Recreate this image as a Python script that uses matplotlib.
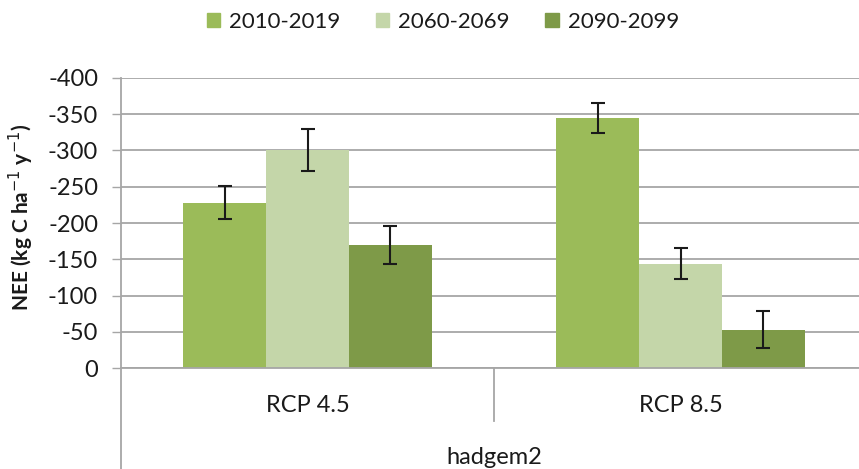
import numpy as np
import matplotlib
matplotlib.use("Agg")
import matplotlib.pyplot as plt
from matplotlib.patches import Patch

plt.rcParams['font.family'] = ['Lato', 'DejaVu Sans']

# === data ===
scenarios = ["RCP 4.5", "RCP 8.5"]
periods = ["2010-2019", "2060-2069", "2090-2099"]
nee = {
    "2010-2019": [-228, -345],
    "2060-2069": [-301, -144],
    "2090-2099": [-170, -53],
}
nee_err = {
    "2010-2019": [23, 21],
    "2060-2069": [29, 21],
    "2090-2099": [26, 26],
}
model = "hadgem2"
yticks = [0, -50, -100, -150, -200, -250, -300, -350, -400]

colors = ["#9BBB59", "#C4D6A9", "#7E9A48"]

# === figure ===
W, H = 859, 469
fig = plt.figure(figsize=(W / 100, H / 100), dpi=100)
ax = fig.add_axes([121 / W, (H - 368) / H, (867 - 121) / W, 290 / H])

x = np.arange(len(scenarios)) + 0.5
width = 0.2225
for i, p in enumerate(periods):
    ax.bar(x + (i - 1) * width, nee[p], width, color=colors[i], zorder=2)
    ax.errorbar(x + (i - 1) * width, nee[p], yerr=nee_err[p], fmt='none',
                ecolor='#1a1a1a', elinewidth=1.5, capsize=5, capthick=1.5, zorder=3)

ax.set_xlim(0, len(scenarios))
ax.set_ylim(0, -400)
ax.set_yticks(yticks)
ax.set_yticklabels([str(v) for v in yticks], fontsize=17, color='#1a1a1a')
ax.set_xticks([])
ax.yaxis.grid(True, color='#A6A6A6', lw=1.3, zorder=0)
ax.set_axisbelow(True)
ax.tick_params(axis='y', length=6.5, width=1, color='#A6A6A6', pad=10)

for s in ['top', 'right']:
    ax.spines[s].set_visible(False)
ax.spines['bottom'].set_color('#A6A6A6')
ax.spines['bottom'].set_linewidth(1.3)
ax.spines['left'].set_visible(False)

# left axis line running to the bottom of the figure
trans = ax.get_xaxis_transform()
ax.plot([0, 0], [1, -0.35], transform=trans, color='#A6A6A6', lw=1.3, clip_on=False)
# category divider
for k in range(1, len(scenarios)):
    ax.plot([k, k], [0, -0.183], transform=trans, color='#A6A6A6', lw=1.3, clip_on=False)

for xi, s in zip(x, scenarios):
    ax.text(xi, -0.128, s, transform=trans, ha='center', va='center', fontsize=17,
            color='#1a1a1a')
ax.text(len(scenarios) / 2, -0.307, model, transform=trans, ha='center', va='center',
        fontsize=17, color='#1a1a1a')

ax.set_ylabel('NEE (kg C ha$^{-1}$ y$^{-1}$)', fontsize=15,
              fontweight='bold', color='#1a1a1a')
ax.yaxis.set_label_coords(-0.114, 0.52)

handles = [Patch(color=c, label=p) for c, p in zip(colors, periods)]
leg = fig.legend(handles=handles, loc='center', bbox_to_anchor=(443 / W, 1 - 22 / H), ncol=3,
                 frameon=False, fontsize=16, handlelength=0.6, handleheight=0.6,
                 handletextpad=0.4, columnspacing=1.6)
for t in leg.get_texts():
    t.set_color('#1a1a1a')

fig.savefig("out.png", dpi=100)
